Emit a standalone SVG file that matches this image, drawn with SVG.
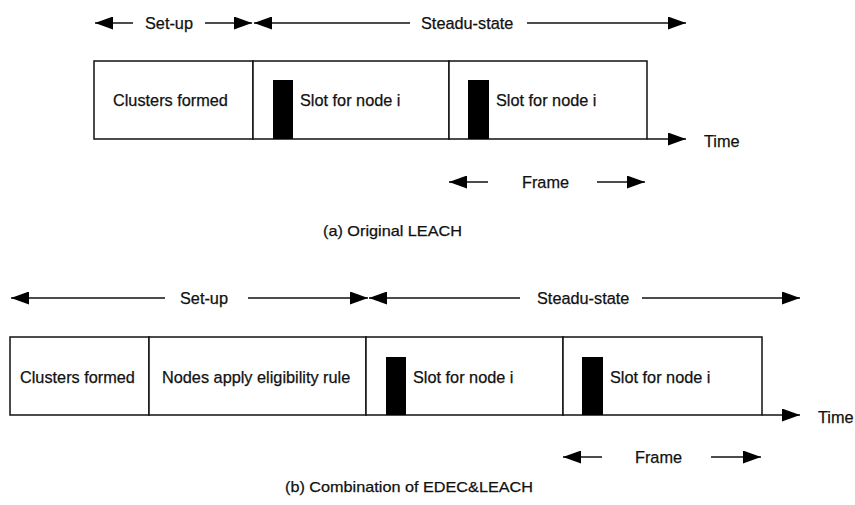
<svg xmlns="http://www.w3.org/2000/svg" width="855" height="505" viewBox="0 0 855 505">
<style>
text{font-family:"Liberation Sans",Arial,sans-serif;font-size:16.3px;fill:#111;stroke:#111;stroke-width:0.25}
.cap{font-size:15px}
.ln{stroke:#111;stroke-width:1.3;fill:none}
.box{stroke:#111;stroke-width:1.5;fill:#fff}
.bar{fill:#000}
</style>
<defs>
<marker id="ah" viewBox="0 0 18 13" refX="18" refY="6.5" markerWidth="18" markerHeight="13" markerUnits="userSpaceOnUse" orient="auto-start-reverse">
<path d="M0,0 L18,6.5 L0,13 Z" fill="#000"/>
</marker>
</defs>
<g id="connectors">
<line class="ln" x1="133" y1="23" x2="95" y2="23" marker-end="url(#ah)"/>
<line class="ln" x1="205" y1="23" x2="252" y2="23" marker-end="url(#ah)"/>
<line class="ln" x1="410" y1="23" x2="254" y2="23" marker-end="url(#ah)"/>
<line class="ln" x1="527" y1="23" x2="686" y2="23" marker-end="url(#ah)"/>
<line class="ln" x1="647" y1="139" x2="686" y2="139" marker-end="url(#ah)"/>
<line class="ln" x1="488" y1="182" x2="449" y2="182" marker-end="url(#ah)"/>
<line class="ln" x1="597" y1="182" x2="645" y2="182" marker-end="url(#ah)"/>
<line class="ln" x1="165" y1="298" x2="11" y2="298" marker-end="url(#ah)"/>
<line class="ln" x1="248" y1="298" x2="368" y2="298" marker-end="url(#ah)"/>
<line class="ln" x1="520" y1="298" x2="369" y2="298" marker-end="url(#ah)"/>
<line class="ln" x1="642" y1="298" x2="800" y2="298" marker-end="url(#ah)"/>
<line class="ln" x1="762" y1="415" x2="800" y2="415" marker-end="url(#ah)"/>
<line class="ln" x1="602" y1="457" x2="563" y2="457" marker-end="url(#ah)"/>
<line class="ln" x1="711" y1="457" x2="761" y2="457" marker-end="url(#ah)"/>
</g>
<g id="labels-a">
<text x="145" y="29">Set-up</text>
<text x="421" y="29">Steadu-state</text>
<text x="704" y="147">Time</text>
<text x="522" y="188">Frame</text>
<text class="cap" x="323" y="236" textLength="139" lengthAdjust="spacingAndGlyphs">(a) Original LEACH</text>
</g>
<g id="a-clusters">
<rect class="box" x="94" y="61" width="159" height="78"/>
<text x="113" y="106">Clusters formed</text>
</g>
<g id="a-slot1">
<rect class="box" x="253" y="61" width="196" height="78"/>
<rect class="bar" x="273" y="80" width="20" height="59"/>
<text x="300" y="106">Slot for node i</text>
</g>
<g id="a-slot2">
<rect class="box" x="449" y="61" width="198" height="78"/>
<rect class="bar" x="468" y="80" width="21" height="59"/>
<text x="496" y="106">Slot for node i</text>
</g>
<g id="labels-b">
<text x="180" y="304">Set-up</text>
<text x="537" y="304">Steadu-state</text>
<text x="818" y="423">Time</text>
<text x="635" y="463">Frame</text>
<text class="cap" x="285" y="492" textLength="248" lengthAdjust="spacingAndGlyphs">(b) Combination of EDEC&amp;LEACH</text>
</g>
<g id="b-clusters">
<rect class="box" x="10" y="337" width="139" height="78"/>
<text x="20" y="383">Clusters formed</text>
</g>
<g id="b-eligibility">
<rect class="box" x="149" y="337" width="217" height="78"/>
<text x="162" y="383">Nodes apply eligibility rule</text>
</g>
<g id="b-slot1">
<rect class="box" x="366" y="337" width="197" height="78"/>
<rect class="bar" x="386" y="357" width="20" height="58"/>
<text x="413" y="383">Slot for node i</text>
</g>
<g id="b-slot2">
<rect class="box" x="563" y="337" width="199" height="78"/>
<rect class="bar" x="582" y="357" width="21" height="58"/>
<text x="610" y="383">Slot for node i</text>
</g>
</svg>
